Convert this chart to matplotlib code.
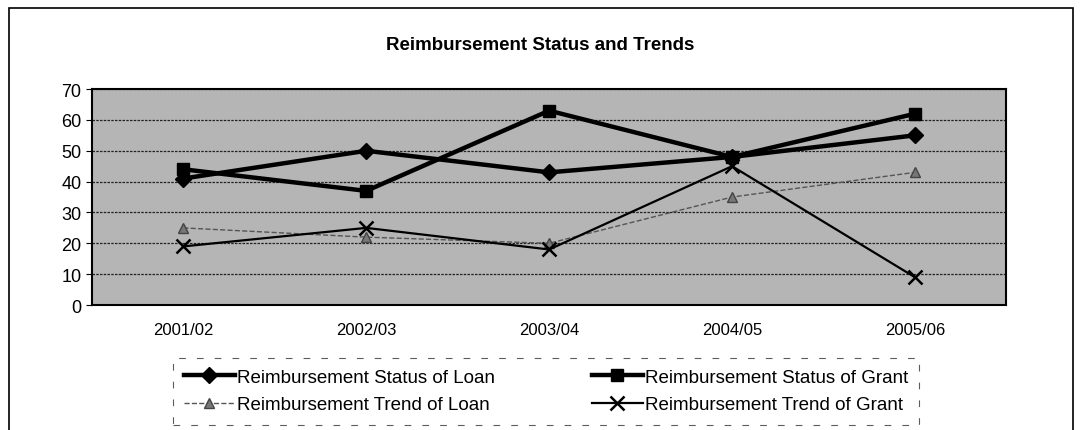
import numpy as np
import matplotlib.pyplot as plt
from matplotlib.patches import Rectangle

plt.rcParams['font.family'] = ['Liberation Sans', 'DejaVu Sans']

years = ['2001/02', '2002/03', '2003/04', '2004/05', '2005/06']
status_loan = [41, 50, 43, 48, 55]
status_grant = [44, 37, 63, 48, 62]
trend_loan = [25, 22, 20, 35, 43]
trend_grant = [19, 25, 18, 45, 9]

fig = plt.figure(figsize=(10.81, 4.31), dpi=100)
ax = fig.add_axes([0.085, 0.29, 0.846, 0.501])
ax.set_facecolor('#b5b5b5')

ind = np.arange(len(years))
l1, = ax.plot(ind, status_loan, color='black', lw=3.2, marker='D', ms=8,
              label='Reimbursement Status of Loan', zorder=4)
l2, = ax.plot(ind, status_grant, color='black', lw=3.2, marker='s', ms=9,
              label='Reimbursement Status of Grant', zorder=4)
l3, = ax.plot(ind, trend_loan, color='#555555', lw=1.0, ls='--', marker='^', ms=7,
              mfc='#777777', mec='#444444', label='Reimbursement Trend of Loan', zorder=3)
l4, = ax.plot(ind, trend_grant, color='black', lw=1.6, marker='x', ms=10, mew=1.8,
              label='Reimbursement Trend of Grant', zorder=3)

ax.set_xlim(-0.5, 4.5)
ax.set_ylim(0, 70)
ax.set_yticks(range(0, 71, 10))
ax.set_xticks(ind)
ax.set_xticklabels(years)
ax.tick_params(axis='y', labelsize=13, length=4)
ax.tick_params(axis='x', labelsize=12, length=0, pad=12)
ax.yaxis.grid(True, color='#222222', lw=0.9, ls=(0, (2, 1)))
ax.set_axisbelow(True)
for s in ax.spines.values():
    s.set_linewidth(1.5)

fig.text(0.5, 0.895, 'Reimbursement Status and Trends', ha='center', va='center',
         fontsize=13.5, fontweight='bold')

handles = [l1, l3, l2, l4]
leg = fig.legend(handles, [h.get_label() for h in handles], loc='center',
                 bbox_to_anchor=(0.505, 0.09), ncol=2, fontsize=13.5,
                 frameon=True, fancybox=False, edgecolor='#333333',
                 columnspacing=5.2, handlelength=2.7, handletextpad=0.1,
                 borderpad=0.6, labelspacing=0.55, borderaxespad=0)
leg.get_frame().set_linestyle((0, (6, 10)))
leg.get_frame().set_linewidth(0.8)

fig.patches.append(Rectangle((0.008, -0.05), 0.985, 1.03, transform=fig.transFigure,
                             fill=False, edgecolor='black', lw=1.2))

fig.savefig('out.png', dpi=100)
